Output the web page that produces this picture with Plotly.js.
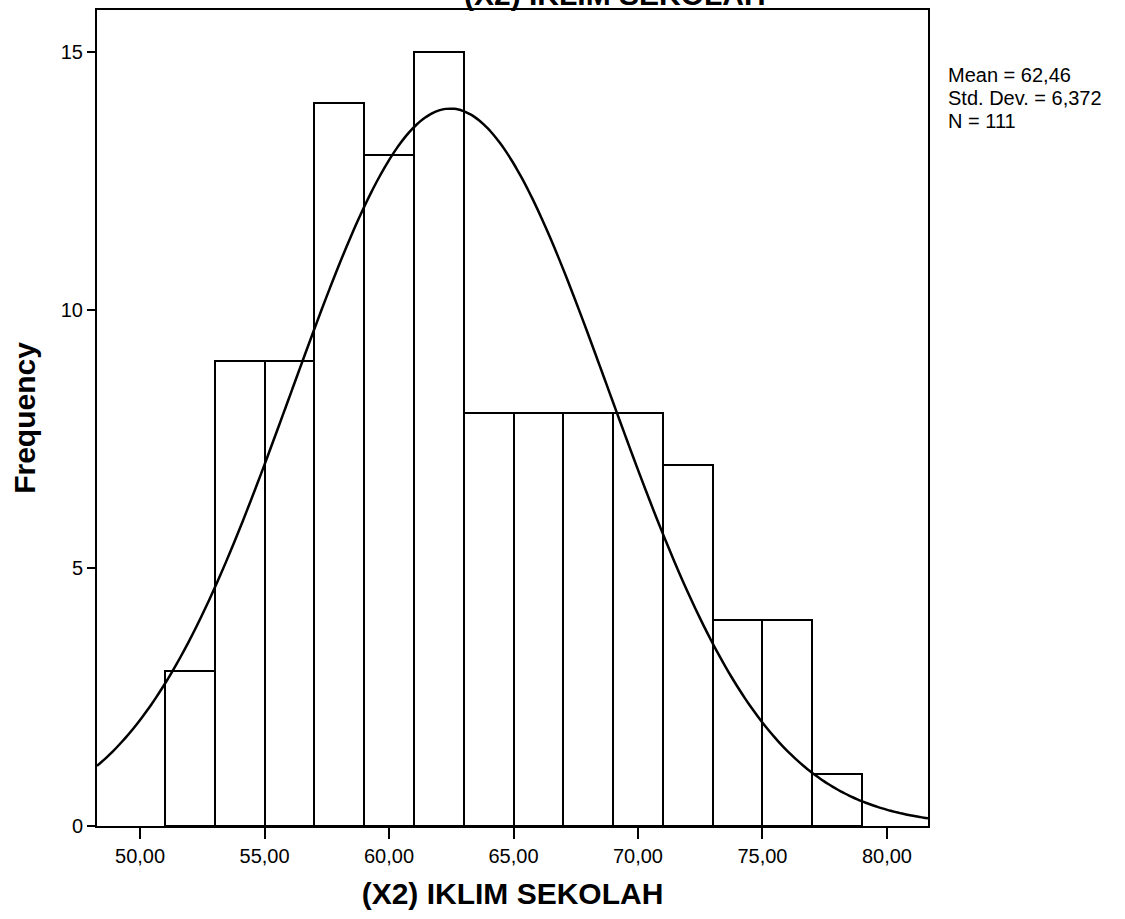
<!DOCTYPE html>
<html>
<head>
<meta charset="utf-8">
<script src="https://cdn.plot.ly/plotly-3.0.1.min.js"></script>
<style>
html,body{margin:0;padding:0;background:#fff;}
#chart{width:1125px;height:919px;}
</style>
</head>
<body>
<div id="chart"></div>
<script>
// Histogram data
const binCenters = [52, 54, 56, 58, 60, 62, 64, 66, 68, 70, 72, 74, 76, 78];
const counts     = [3, 9, 9, 14, 13, 15, 8, 8, 8, 8, 7, 4, 4, 1];
const binWidth = 2;
const xTickVals = [50, 55, 60, 65, 70, 75, 80];
const xTickText = ["50,00", "55,00", "60,00", "65,00", "70,00", "75,00", "80,00"];
const yTickVals = [0, 5, 10, 15];
const yTickText = ["0", "5", "10", "15"];
const statMean = 62.46;
const statSD = 6.372;
const statN = 111;
const statLines = ["Mean = 62,46", "Std. Dev. = 6,372", "N = 111"];
const titleText = "(X2) IKLIM SEKOLAH";
const xRange = [48.27, 81.65];
const yRange = [0, 15.81];

// fitted normal curve from the displayed statistics
const curveX = [], curveY = [];
const steps = 200;
for (let i = 0; i <= steps; i++) {
  const x = xRange[0] + (xRange[1] - xRange[0]) * i / steps;
  const z = (x - statMean) / statSD;
  curveX.push(x);
  curveY.push(statN * binWidth * Math.exp(-0.5 * z * z) / (statSD * Math.sqrt(2 * Math.PI)));
}

const FONT = '"Liberation Sans", Arial, Helvetica, sans-serif';

const traces = [
  {
    type: 'bar',
    x: binCenters,
    y: counts,
    width: binWidth,
    marker: {color: '#ffffff', line: {color: '#000000', width: 2}},
    hoverinfo: 'x+y',
    showlegend: false
  },
  {
    type: 'scatter',
    mode: 'lines',
    x: curveX,
    y: curveY,
    line: {color: '#000000', width: 2.5, shape: 'spline'},
    hoverinfo: 'skip',
    showlegend: false
  }
];

const plotL = 97, plotR = 928, plotT = 10, plotB = 826;
const pw = plotR - plotL, ph = plotB - plotT;
function px2x(p) { return (p - plotL) / pw; }
function py2y(p) { return (plotB - p) / ph; }

const annotations = statLines.map((t, i) => ({
  text: t,
  xref: 'paper', yref: 'paper',
  x: px2x(947), y: py2y(75 + i * 23),
  xanchor: 'left', yanchor: 'middle', align: 'left',
  showarrow: false,
  borderpad: 0,
  font: {family: FONT, size: 20, color: '#000'}
}));
annotations.push({
  text: '<b>' + titleText + '</b>',
  xref: 'paper', yref: 'paper',
  x: px2x(615), y: py2y(-6),
  xanchor: 'center', yanchor: 'middle',
  showarrow: false,
  font: {family: FONT, size: 30, color: '#000'}
});

const layout = {
  width: 1125,
  height: 919,
  margin: {l: plotL, r: 1125 - plotR, t: plotT, b: 919 - plotB},
  paper_bgcolor: '#ffffff',
  plot_bgcolor: '#ffffff',
  font: {family: FONT, color: '#000000'},
  bargap: 0,
  xaxis: {
    range: xRange,
    tickvals: xTickVals,
    ticktext: xTickText,
    ticks: 'outside',
    ticklen: 11,
    tickwidth: 2,
    tickcolor: '#000',
    showline: true,
    linecolor: '#000',
    linewidth: 2,
    mirror: true,
    showgrid: false,
    zeroline: false,
    tickfont: {family: FONT, size: 20, color: '#000'},
    title: {text: '<b>(X2) IKLIM SEKOLAH</b>', font: {family: FONT, size: 30, color: '#000'}, standoff: 17}
  },
  yaxis: {
    range: yRange,
    tickvals: yTickVals,
    ticktext: yTickText,
    ticks: 'outside',
    ticklen: 8,
    tickwidth: 2,
    tickcolor: '#000',
    showline: true,
    linecolor: '#000',
    linewidth: 2,
    mirror: true,
    showgrid: false,
    zeroline: false,
    tickfont: {family: FONT, size: 20, color: '#000'},
    title: {text: '<b>Frequency</b>', font: {family: FONT, size: 30, color: '#000'}, standoff: 16}
  },
  annotations: annotations
};

Plotly.newPlot('chart', traces, layout, {displayModeBar: false});
</script>
</body>
</html>
